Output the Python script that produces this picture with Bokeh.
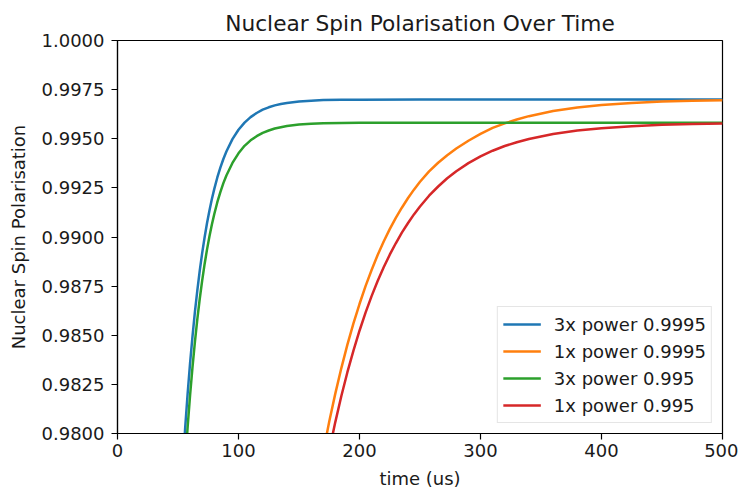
from bokeh.plotting import figure
from bokeh.models import Range1d, FixedTicker, NumeralTickFormatter
from bokeh.embed import file_html
from bokeh.resources import INLINE

# ---- data ----
x_ticks = [0, 100, 200, 300, 400, 500]
y_ticks = [0.98, 0.9825, 0.985, 0.9875, 0.99, 0.9925, 0.995, 0.9975, 1.0]

t_blue = [54, 56, 58, 60, 62, 64, 66, 68, 70, 72, 74, 76, 78, 80, 82.5, 85, 87.5,
          90, 95, 100, 105, 110, 115, 120, 125, 130, 135, 140, 150, 160, 170, 185,
          200, 250, 300, 400, 500]
p_blue = [0.97845, 0.98035, 0.98206, 0.98359, 0.98496, 0.98620, 0.98730, 0.98830,
          0.98919, 0.98999, 0.99071, 0.99135, 0.99193, 0.99245, 0.99303, 0.99353,
          0.99397, 0.99435, 0.99498, 0.99546, 0.99582, 0.99610, 0.99631, 0.99648,
          0.99660, 0.99670, 0.99677, 0.99682, 0.99690, 0.99694, 0.99697, 0.99698,
          0.99699, 0.99700, 0.99700, 0.99700, 0.99700]

t_orange = [170, 175, 180, 185, 190, 195, 200, 205, 210, 215, 220, 225, 230, 235,
            240, 245, 250, 257.5, 265, 272.5, 280, 290, 300, 310, 320, 330, 340,
            360, 380, 400, 425, 450, 475, 500]
p_orange = [0.97905, 0.98061, 0.98203, 0.98333, 0.98452, 0.98560, 0.98659, 0.98750,
            0.98832, 0.98908, 0.98977, 0.99040, 0.99097, 0.99149, 0.99197, 0.99241,
            0.99281, 0.99334, 0.99378, 0.99416, 0.99450, 0.99490, 0.99525, 0.99555,
            0.99578, 0.99598, 0.99615, 0.99641, 0.99659, 0.99672, 0.99682, 0.99689,
            0.99693, 0.99696]

t_green = [56, 58, 60, 62, 64, 66, 68, 70, 72, 74, 76, 78, 80, 82.5, 85, 87.5, 90,
           95, 100, 105, 110, 115, 120, 125, 130, 135, 140, 150, 160, 170, 185, 200,
           250, 300, 400, 500]
p_green = [0.97857, 0.98036, 0.98196, 0.98339, 0.98468, 0.98583, 0.98687, 0.98779,
           0.98863, 0.98937, 0.99004, 0.99064, 0.99117, 0.99177, 0.99228, 0.99274,
           0.99313, 0.99377, 0.99426, 0.99464, 0.99492, 0.99513, 0.99530, 0.99542,
           0.99552, 0.99559, 0.99565, 0.99572, 0.99576, 0.99579, 0.99580, 0.99581,
           0.99582, 0.99582, 0.99582, 0.99582]

t_red = [175, 180, 185, 190, 195, 200, 205, 210, 215, 220, 225, 230, 235, 240, 245,
         250, 257.5, 265, 272.5, 280, 290, 300, 310, 320, 330, 340, 360, 380, 400,
         425, 450, 475, 500]
p_red = [0.97913, 0.98058, 0.98191, 0.98312, 0.98422, 0.98523, 0.98615, 0.98699,
         0.98776, 0.98846, 0.98910, 0.98968, 0.99022, 0.99070, 0.99115, 0.99155,
         0.99210, 0.99257, 0.99299, 0.99335, 0.99376, 0.99410, 0.99439, 0.99463,
         0.99482, 0.99499, 0.99524, 0.99542, 0.99554, 0.99564, 0.99571, 0.99575,
         0.99577]

labels = ["3x power 0.9995", "1x power 0.9995", "3x power 0.995", "1x power 0.995"]
colors = ["#1f77b4", "#ff7f0e", "#2ca02c", "#d62728"]

FONT = "DejaVu Sans"
TXT = "#1a1a1a"

p = figure(width=738, height=491, output_backend="svg", toolbar_location=None,
           x_range=Range1d(0, 500), y_range=Range1d(0.98, 1.0),
           title="Nuclear Spin Polarisation Over Time",
           min_border_left=117, min_border_right=16, min_border_top=40,
           min_border_bottom=57)

p.title.align = "center"
p.title.text_font = FONT
p.title.text_font_size = "21.7px"
p.title.text_font_style = "normal"
p.title.text_color = TXT
p.title.standoff = 10

p.xgrid.visible = False
p.ygrid.visible = False
p.outline_line_color = "black"
p.outline_line_width = 1.2
p.background_fill_color = "white"
p.border_fill_color = "white"

for ax in (p.xaxis[0], p.yaxis[0]):
    ax.axis_line_color = "black"
    ax.axis_line_width = 1.2
    ax.major_tick_line_color = "black"
    ax.major_tick_line_width = 1.2
    ax.major_tick_out = 6
    ax.major_tick_in = 0
    ax.minor_tick_line_color = None
    ax.major_label_text_font = FONT
    ax.major_label_text_font_size = "18px"
    ax.major_label_text_color = TXT
    ax.axis_label_text_font = FONT
    ax.axis_label_text_font_size = "18px"
    ax.axis_label_text_font_style = "normal"
    ax.axis_label_text_color = TXT

p.xaxis.ticker = FixedTicker(ticks=x_ticks)
p.yaxis.ticker = FixedTicker(ticks=y_ticks)
p.yaxis.formatter = NumeralTickFormatter(format="0.0000")
p.xaxis.axis_label = "time (us)"
p.yaxis.axis_label = "Nuclear Spin Polarisation"
p.xaxis.major_label_standoff = 4
p.xaxis.axis_label_standoff = 8
p.yaxis.major_label_standoff = 7
p.yaxis.axis_label_standoff = 10

series = [(t_blue, p_blue), (t_orange, p_orange), (t_green, p_green), (t_red, p_red)]
for (ts, ps), lab, col in zip(series, labels, colors):
    p.line(ts, ps, line_color=col, line_width=2.5, legend_label=lab)

lg = p.legend[0]
lg.location = "bottom_right"
lg.label_text_font = FONT
lg.label_text_font_size = "18px"
lg.label_text_color = TXT
lg.glyph_width = 38
lg.glyph_height = 24
lg.label_height = 24
lg.spacing = 3
lg.padding = 5
lg.margin = 10
lg.label_standoff = 13
lg.border_line_color = "#cccccc"
lg.border_line_width = 1
lg.background_fill_color = "white"
lg.background_fill_alpha = 0.8

open("out.html", "w").write(file_html(p, INLINE))
